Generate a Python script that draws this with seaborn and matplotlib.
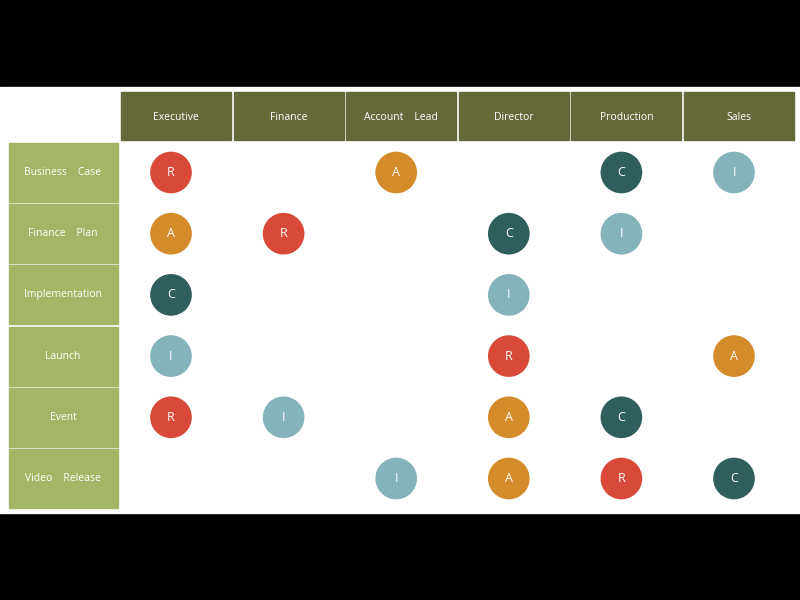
import matplotlib
matplotlib.use("Agg")
import matplotlib.pyplot as plt
import seaborn as sns
import pandas as pd
from matplotlib.patches import Rectangle

columns = ["Executive", "Finance", "Account    Lead", "Director", "Production", "Sales"]
rows = ["Business    Case", "Finance    Plan", "Implementation", "Launch", "Event", "Video    Release"]
assign = [
    ["R", "", "A", "", "C", "I"],
    ["A", "R", "", "C", "I", ""],
    ["C", "", "", "I", "", ""],
    ["I", "", "", "R", "", "A"],
    ["R", "I", "", "A", "C", ""],
    ["", "", "I", "A", "R", "C"],
]
palette = {"R": "#d9493a", "A": "#d48b2a", "C": "#2f5e5c", "I": "#85b3ba"}

recs = []
for r, row in enumerate(assign):
    for c, v in enumerate(row):
        if v:
            recs.append({"row": r, "col": c, "role": v})
df = pd.DataFrame(recs)

fig = plt.figure(figsize=(8, 6), dpi=100, facecolor="black")
ax = fig.add_axes([0, 0, 1, 1])
ax.set_xlim(0, 800); ax.set_ylim(600, 0); ax.axis("off")
ax.add_patch(Rectangle((0, 87), 800, 426, color="white", zorder=0))

col_x0, col_w, col_step = 121, 110, 112.6
row_y0, row_h, row_step = 143, 59, 61.2
for i, name in enumerate(columns):
    x = col_x0 + i * col_step
    ax.add_patch(Rectangle((x, 92), col_w, 48, color="#65693a", zorder=1))
    ax.text(x + col_w / 2, 118, name, color="white", ha="center", va="center", fontsize=7.5, family="Open Sans")
for j, name in enumerate(rows):
    y = row_y0 + j * row_step
    ax.add_patch(Rectangle((9, y), 109, row_h, color="#a3b665", zorder=1))
    ax.text(63, y + row_h / 2, name, color="white", ha="center", va="center", fontsize=7.5, family="Open Sans")

df["x"] = col_x0 + df["col"] * col_step + 50
df["y"] = row_y0 + df["row"] * row_step + row_h / 2
sns.scatterplot(data=df, x="x", y="y", hue="role", palette=palette, s=1800 / 2,
                edgecolor="none", legend=False, ax=ax, zorder=3)
for _, r in df.iterrows():
    ax.text(r["x"], r["y"], r["role"], color="white", ha="center", va="center",
            fontsize=9, family="Open Sans", zorder=4)
ax.set_xlim(0, 800); ax.set_ylim(600, 0); ax.axis("off")
fig.savefig("out.png", dpi=100, facecolor="black")
